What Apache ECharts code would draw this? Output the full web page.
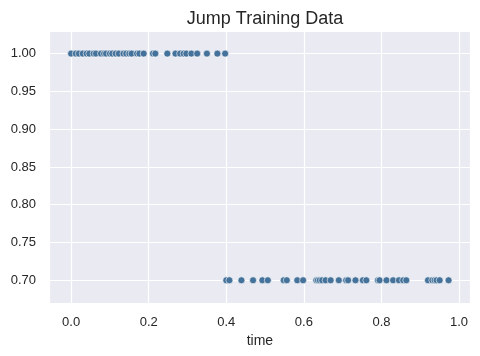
<!DOCTYPE html>
<html>
<head>
<meta charset="utf-8">
<script src="https://cdn.jsdelivr.net/npm/echarts@6/dist/echarts.min.js"></script>
<style>
html,body{margin:0;padding:0;background:#fff;}
#chart{width:480px;height:356px;}
</style>
</head>
<body>
<div id="chart"></div>
<script>
const titleText = "Jump Training Data";
const xLabel = "time";
const highValue = 1.00;
const lowValue = 0.70;
const highTimes = [0.000, 0.012, 0.020, 0.030, 0.040, 0.047, 0.058, 0.064, 0.077, 0.085, 0.090, 0.100, 0.106, 0.115, 0.123, 0.135, 0.142, 0.150, 0.156, 0.170, 0.176, 0.187, 0.211, 0.217, 0.248, 0.269, 0.281, 0.290, 0.297, 0.310, 0.325, 0.350, 0.377, 0.397];
const lowTimes = [0.400, 0.408, 0.439, 0.469, 0.493, 0.507, 0.548, 0.556, 0.583, 0.598, 0.632, 0.636, 0.641, 0.647, 0.656, 0.669, 0.690, 0.709, 0.714, 0.733, 0.752, 0.761, 0.791, 0.795, 0.813, 0.830, 0.845, 0.856, 0.864, 0.920, 0.931, 0.937, 0.942, 0.950, 0.973];

const points = highTimes.map(t => [t, highValue]).concat(lowTimes.map(t => [t, lowValue]));

const font = "'Liberation Sans', Arial, sans-serif";
const chart = echarts.init(document.getElementById('chart'));
chart.setOption({
  backgroundColor: '#ffffff',
  animation: false,
  title: {
    text: titleText, left: 260, top: 5, textAlign: 'center',
    textStyle: { fontFamily: font, fontSize: 18, fontWeight: 'normal', color: '#262626' }
  },
  grid: { left: 49, right: 9.3, top: 31.7, bottom: 52.3, show: true, backgroundColor: '#EAEAF2', borderWidth: 0 },
  xAxis: {
    type: 'value', min: -0.057, max: 1.03, splitNumber: 5,
    name: xLabel, nameLocation: 'middle', nameGap: 30,
    nameTextStyle: { fontFamily: font, fontSize: 14, color: '#262626' },
    axisLine: { show: false }, axisTick: { show: false },
    axisLabel: { fontFamily: font, fontSize: 13, color: '#262626', margin: 12, showMinLabel: false, showMaxLabel: false,
      formatter: v => v.toFixed(1) },
    splitLine: { show: true, lineStyle: { color: '#ffffff', width: 1.2 } }
  },
  yAxis: {
    type: 'value', min: 0.669, max: 1.029, splitNumber: 7,
    axisLine: { show: false }, axisTick: { show: false },
    axisLabel: { fontFamily: font, fontSize: 13, color: '#262626', margin: 13, showMinLabel: false, showMaxLabel: false,
      formatter: v => v.toFixed(2) },
    splitLine: { show: true, lineStyle: { color: '#ffffff', width: 1.2 } }
  },
  series: [{
    type: 'scatter', data: points, symbolSize: 7,
    itemStyle: { color: '#45729a', borderColor: '#ffffff', borderWidth: 0.6, opacity: 1 }
  }]
});
</script>
</body>
</html>
